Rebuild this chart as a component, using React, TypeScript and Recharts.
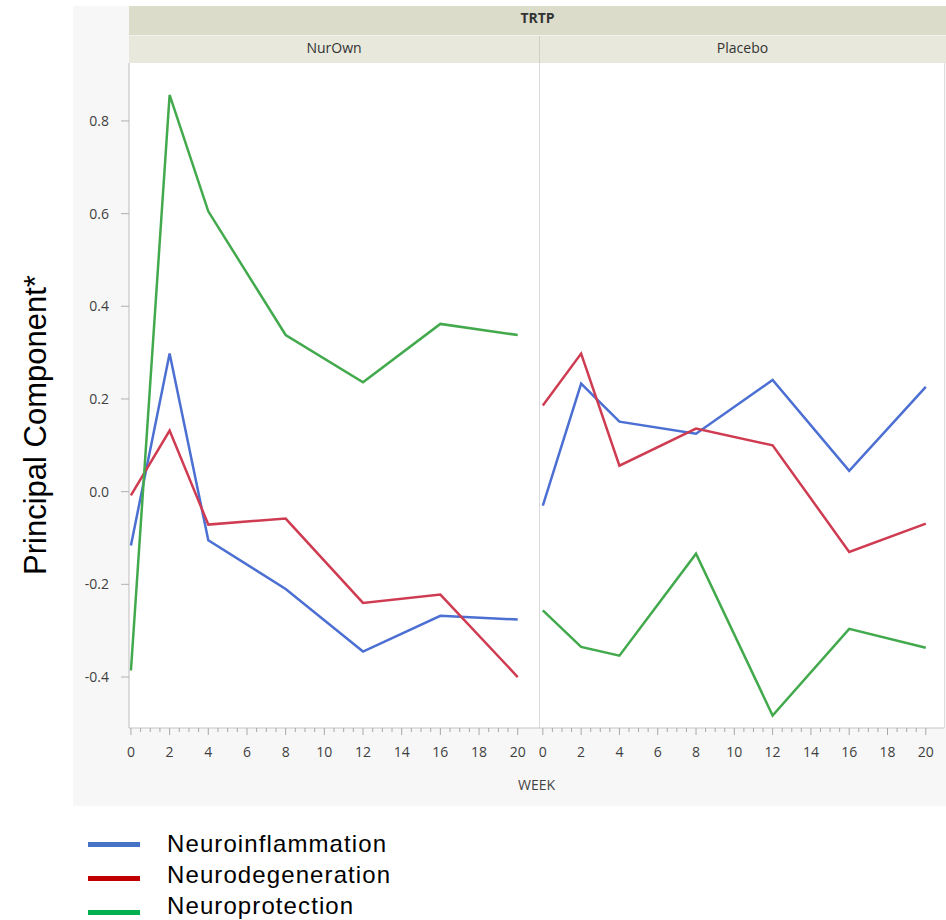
import React from 'react';
import { LineChart, Line, XAxis, YAxis } from 'recharts';

const weeks = [0, 2, 4, 8, 12, 16, 20];

const nurOwnInflammation = [-0.116, 0.298, -0.105, -0.21, -0.345, -0.268, -0.276];
const nurOwnDegeneration = [-0.008, 0.132, -0.071, -0.058, -0.24, -0.222, -0.4];
const nurOwnProtection = [-0.386, 0.856, 0.605, 0.338, 0.236, 0.362, 0.338];

const placeboInflammation = [-0.03, 0.233, 0.151, 0.125, 0.241, 0.045, 0.226];
const placeboDegeneration = [0.186, 0.298, 0.056, 0.136, 0.1, -0.13, -0.069];
const placeboProtection = [-0.256, -0.335, -0.354, -0.134, -0.483, -0.296, -0.337];

const majorWeekTicks = [0, 2, 4, 6, 8, 10, 12, 14, 16, 18, 20];
const yTicks = [-0.4, -0.2, 0, 0.2, 0.4, 0.6, 0.8];

const seriesNames = ['Neuroinflammation', 'Neurodegeneration', 'Neuroprotection'];
const lineColors = ['#4b6fd2', '#cf3c52', '#42a94c'];
const legendColors = ['#4472C4', '#C00000', '#00B050'];

// minor ticks every half week between the labelled ones
const weekTicks = majorWeekTicks.flatMap((t, i) => (i === 0 ? [t] : [t - 1.5, t - 1, t - 0.5, t]));

const toRows = (inf: number[], deg: number[], pro: number[]) =>
  weeks.map((w, i) => ({ week: w, inf: inf[i], deg: deg[i], pro: pro[i] }));

const nurOwnData = toRows(nurOwnInflammation, nurOwnDegeneration, nurOwnProtection);
const placeboData = toRows(placeboInflammation, placeboDegeneration, placeboProtection);

const tickFont = '"Open Sans", sans-serif';
const Y_DOMAIN: [number, number] = [-0.51, 0.925];

const WeekTick = (props: any) => {
  const { x, y, payload } = props;
  const v = payload.value as number;
  const major = majorWeekTicks.includes(v);
  return (
    <g>
      <line x1={x} x2={x} y1={y} y2={y + (major ? 7 : 4)} stroke="#a8a8a8" strokeWidth={1} />
      {major && (
        <text x={x} y={y + 29} textAnchor="middle" fontSize={14} fill="#3f3f3f" fontFamily={tickFont}>
          {v}
        </text>
      )}
    </g>
  );
};

function Panel({ data, domain, width, showY }: { data: any[]; domain: [number, number]; width: number; showY: boolean }) {
  return (
    <LineChart width={width} height={710} data={data} margin={{ top: 0, right: 0, bottom: 0, left: 0 }}>
      <XAxis
        dataKey="week"
        type="number"
        domain={domain}
        ticks={weekTicks}
        interval={0}
        tick={<WeekTick />}
        tickLine={false}
        tickSize={0}
        tickMargin={0}
        height={45}
        axisLine={{ stroke: '#c4c4c4' }}
        allowDataOverflow
      />
      <YAxis
        type="number"
        domain={Y_DOMAIN}
        ticks={yTicks}
        hide={!showY}
        width={55}
        tickSize={8}
        tickMargin={12}
        tickFormatter={(v: number) => v.toFixed(1)}
        tick={{ fontSize: 14, fill: '#3f3f3f', fontFamily: tickFont }}
        tickLine={{ stroke: '#b0b0b0' }}
        axisLine={{ stroke: '#bdbdbd' }}
        allowDataOverflow
      />
      <Line dataKey="inf" type="linear" stroke={lineColors[0]} strokeWidth={2.5} dot={false} isAnimationActive={false} />
      <Line dataKey="deg" type="linear" stroke={lineColors[1]} strokeWidth={2.5} dot={false} isAnimationActive={false} />
      <Line dataKey="pro" type="linear" stroke={lineColors[2]} strokeWidth={2.5} dot={false} isAnimationActive={false} />
    </LineChart>
  );
}

export default function App() {
  const headerText = { position: 'absolute' as const, fontFamily: tickFont, fontSize: 14, color: '#333', textAlign: 'center' as const };
  const legendFont = '"Liberation Sans", Arial, sans-serif';
  return (
    <div style={{ position: 'absolute', left: 0, top: 0, width: 946, height: 920, background: '#fff', overflow: 'hidden' }}>
      {/* gray frame behind the chart */}
      <div style={{ position: 'absolute', left: 73, top: 6, width: 873, height: 800, background: '#f7f7f7' }} />
      {/* header bands */}
      <div style={{ position: 'absolute', left: 129, top: 6, width: 817, height: 29, background: '#dcdccb' }} />
      <div style={{ position: 'absolute', left: 129, top: 35, width: 817, height: 1, background: '#f2f2ea' }} />
      <div style={{ position: 'absolute', left: 129, top: 36, width: 817, height: 27, background: '#e8e8dc' }} />
      <div style={{ position: 'absolute', left: 539, top: 36, width: 1, height: 27, background: '#d0d0c4' }} />
      <div style={{ ...headerText, left: 129, top: 8, width: 817, fontWeight: 700 }}>TRTP</div>
      <div style={{ ...headerText, left: 129, top: 38, width: 410 }}>NurOwn</div>
      <div style={{ ...headerText, left: 539, top: 38, width: 407 }}>Placebo</div>
      {/* plot background */}
      <div style={{ position: 'absolute', left: 129, top: 63, width: 815, height: 665, background: '#fff', borderRight: '1px solid #dedede' }} />
      <div style={{ position: 'absolute', left: 539, top: 63, width: 1, height: 665, background: '#dadada' }} />

      <div style={{ position: 'absolute', left: 74, top: 63 }}>
        <Panel data={nurOwnData} domain={[-0.1, 21.1]} width={465} showY />
      </div>
      <div style={{ position: 'absolute', left: 539, top: 63 }}>
        <Panel data={placeboData} domain={[-0.2, 20.95]} width={405} showY={false} />
      </div>

      <div style={{ ...headerText, left: 129, top: 775, width: 815, color: '#444' }}>WEEK</div>

      {/* y axis title */}
      <div
        style={{
          position: 'absolute',
          left: 36,
          top: 425,
          transform: 'translate(-50%, -50%) rotate(-90deg)',
          whiteSpace: 'nowrap',
          fontFamily: legendFont,
          fontSize: 31,
          color: '#000',
        }}
      >
        Principal Component*
      </div>

      {/* legend */}
      {seriesNames.map((name, i) => (
        <React.Fragment key={name}>
          <div style={{ position: 'absolute', left: 88, top: 842 + i * 34, width: 52, height: 5, background: legendColors[i] }} />
          <div
            style={{
              position: 'absolute',
              left: 167,
              top: 830 + i * 31,
              fontFamily: legendFont,
              fontSize: 24,
              lineHeight: '28px',
              color: '#000',
              letterSpacing: 1.1,
              whiteSpace: 'nowrap',
            }}
          >
            {name}
          </div>
        </React.Fragment>
      ))}
    </div>
  );
}
